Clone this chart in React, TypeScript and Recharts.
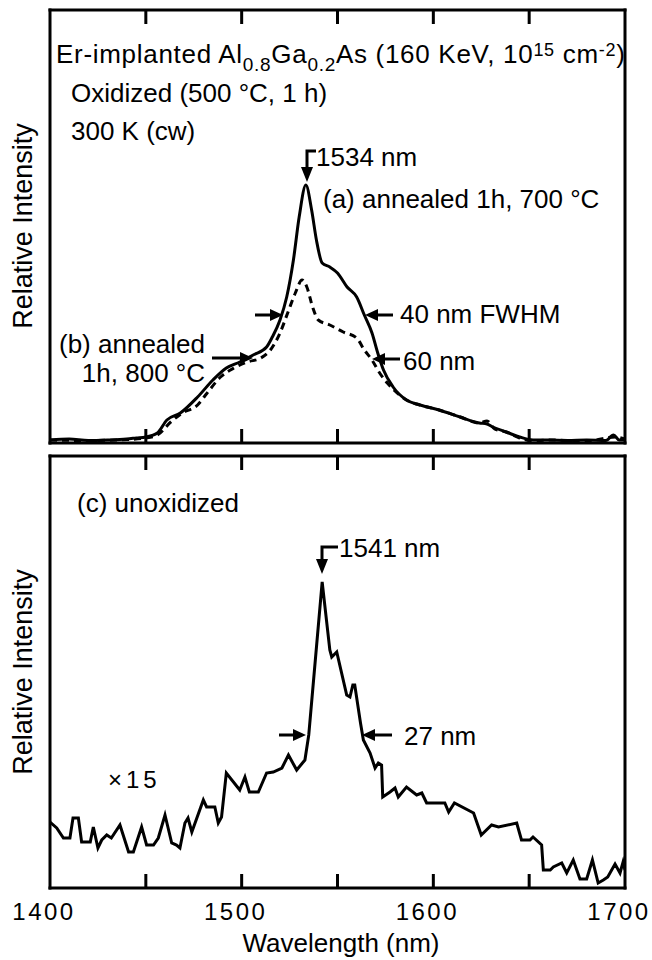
import React from 'react';
import { LineChart, Line, XAxis, YAxis, Customized } from 'recharts';

const FONT = '"Liberation Sans", Arial, Helvetica, sans-serif';

// wavelength ticks (nm); only the hundreds carry a label
const wavelengthTicks = [1400, 1450, 1500, 1550, 1600, 1650, 1700];
const innerTicks = [1450, 1500, 1550, 1600, 1650];
const labelledTicks = [1400, 1500, 1600, 1700];

// (a) annealed 1h, 700 °C  (solid)
const wlA = [1400, 1410, 1420, 1430, 1440, 1445, 1450, 1456, 1461, 1468, 1477, 1485, 1492, 1499, 1506, 1513, 1516, 1520, 1523.5, 1527, 1530, 1533.5, 1536.5, 1539, 1542, 1546, 1550, 1555, 1560, 1564, 1568, 1571, 1574, 1579, 1586, 1593, 1603, 1614, 1624, 1628, 1631, 1638, 1645, 1652, 1660, 1670, 1680, 1690, 1694, 1697, 1700];
const intA = [3, 4, 2.5, 3, 4, 5, 6, 10, 23, 30, 46, 63, 75, 81, 88, 96, 106, 123, 146, 183, 226, 258, 233, 203, 180, 176, 170, 156, 146, 128, 110, 90, 73, 56, 43, 38, 33, 26, 20, 19, 16, 11, 6, 3, 3, 2.5, 3, 2.5, 8, 3, 3];

// (b) annealed 1h, 800 °C  (dashed)
const wlB = [1400, 1420, 1440, 1450, 1456, 1463, 1469, 1477, 1482, 1489, 1496, 1503, 1510, 1515, 1520, 1524, 1528, 1531.5, 1534, 1537, 1540, 1546, 1553, 1560, 1564, 1568, 1572, 1576, 1580, 1586, 1593, 1603, 1614, 1624, 1628, 1632, 1638, 1645, 1652, 1660, 1680, 1695, 1700];
const intB = [3, 2.5, 3.5, 5, 8, 21, 30, 38, 50, 66, 75, 81, 85, 93, 110, 130, 150, 163, 156, 136, 123, 118, 111, 105, 93, 83, 70, 60, 52, 43, 38, 33, 26, 20, 22, 14, 11, 5, 2, 3, 2, 6, 4];

// (c) unoxidized, x15
const wlC = [1400, 1403.5, 1407, 1410.4, 1412, 1414.8, 1416.5, 1421, 1422.6, 1425, 1427, 1429.6, 1432, 1436.5, 1441, 1443.5, 1447.8, 1450.4, 1454, 1456.5, 1460, 1463.5, 1466, 1467.8, 1470.4, 1472, 1474, 1480, 1481.7, 1486, 1487.8, 1489.5, 1492, 1499, 1501.7, 1504, 1508.7, 1513, 1516.5, 1521, 1524.4, 1528.7, 1533, 1535, 1542, 1546, 1547, 1549.6, 1554.8, 1556.5, 1558, 1559, 1562, 1563.5, 1567, 1569.6, 1571.3, 1573, 1573.6, 1577.4, 1580, 1581.7, 1586, 1591.3, 1594, 1596.5, 1606, 1608, 1611, 1621, 1625, 1630.4, 1634, 1643.5, 1646, 1650.4, 1652, 1656.5, 1657.4, 1661, 1662.6, 1667, 1669.6, 1673, 1676.5, 1680, 1683, 1686, 1688.7, 1691, 1694.8, 1697.4, 1699, 1700];
const intC = [66, 60, 50, 50, 70, 70, 46, 46, 61, 40, 48, 53, 50, 63, 36, 36, 61, 43, 43, 50, 73, 45, 43, 40, 65, 70, 56, 88, 81, 81, 65, 71, 115, 98, 111, 96, 96, 115, 116, 120, 133, 118, 128, 153, 306, 238, 231, 236, 193, 191, 203, 203, 165, 148, 135, 120, 125, 123, 91, 96, 100, 91, 101, 93, 95, 85, 85, 76, 85, 75, 53, 63, 61, 65, 48, 48, 51, 43, 18, 18, 21, 25, 15, 28, 9, 9, 28, 5, 8, 11, 24, 15, 26, 18];

const toRows = (wl: number[], v: number[]) => wl.map((nm, i) => ({ nm, v: v[i] }));
const dataA = toRows(wlA, intA);
const dataB = toRows(wlB, intB);
const dataC = toRows(wlC, intC);

// plot box shared by both panels (px inside each chart)
const PLOT_LEFT = 50;
const PLOT_RIGHT = 625;
const PLOT_TOP = 10;
const TICK_LEN = 14;
const xOf = (nm: number) => PLOT_LEFT + ((nm - 1400) / 300) * (PLOT_RIGHT - PLOT_LEFT);

const frame = { stroke: '#000', strokeWidth: 3, strokeLinecap: 'square' as const };

// inward tick marks on the bottom edge, optional labels below
const makeTick = (labels: boolean) => (props: any) => {
  const { x, y, payload } = props;
  const v = payload.value;
  const inner = v > 1400 && v < 1700;
  return (
    <g>
      {inner && <rect x={x - 1.5} y={y - TICK_LEN} width={3} height={TICK_LEN} fill="#000" />}
      {labels && labelledTicks.includes(v) && (
        <text x={x - 6} y={y + 32} textAnchor="middle" fontFamily={FONT} fontSize={24} letterSpacing={2.5} fill="#000">
          {v}
        </text>
      )}
    </g>
  );
};

// inward ticks hanging from the top edge
function TopEdgeTicks() {
  return (
    <g>
      {innerTicks.map((t) => (
        <rect key={t} x={xOf(t) - 1.5} y={PLOT_TOP} width={3} height={TICK_LEN} fill="#000" />
      ))}
    </g>
  );
}

function HArrow({ from, to, y }: { from: number; to: number; y: number }) {
  const dir = to > from ? 1 : -1;
  const base = to - dir * 13;
  return (
    <g>
      <line x1={from} y1={y} x2={base} y2={y} stroke="#000" strokeWidth={3} />
      <polygon points={`${to},${y} ${base},${y - 6} ${base},${y + 6}`} fill="#000" />
    </g>
  );
}

function PeakArrow({ x, y, tip, textX }: { x: number; y: number; tip: number; textX: number }) {
  return (
    <g>
      <polyline points={`${textX},${y} ${x},${y} ${x},${tip - 12}`} fill="none" stroke="#000" strokeWidth={3} />
      <polygon points={`${x},${tip} ${x - 6},${tip - 15} ${x + 6},${tip - 15}`} fill="#000" />
    </g>
  );
}

function TopNotes() {
  return (
    <g fontFamily={FONT} fontSize={26} fill="#000">
      <TopEdgeTicks />
      <text transform="translate(32,226) rotate(-90)" textAnchor="middle" fontSize={27}>Relative Intensity</text>
      <text x={56} y={63} letterSpacing={0.7}>
        Er-implanted Al<tspan fontSize={19} dy={8}>0.8</tspan>
        <tspan dy={-8}>Ga</tspan>
        <tspan fontSize={19} dy={8}>0.2</tspan>
        <tspan dy={-8}>{'As (160 KeV, 10'}</tspan>
        <tspan fontSize={18} dy={-7}>15</tspan>
        <tspan dy={7}>{' cm'}</tspan>
        <tspan fontSize={18} dy={-7}>-2</tspan>
        <tspan dy={7}>)</tspan>
      </text>
      <text x={71} y={102}>Oxidized (500 °C, 1 h)</text>
      <text x={71} y={140}>300 K (cw)</text>
      <PeakArrow x={307} y={151} tip={182} textX={316} />
      <text x={316} y={166}>1534 nm</text>
      <text x={323} y={208}>(a) annealed 1h, 700 °C</text>
      <HArrow from={255} to={283} y={315} />
      <HArrow from={393} to={365} y={315} />
      <text x={400} y={323}>40 nm FWHM</text>
      <text x={205} y={353} textAnchor="end">(b) annealed</text>
      <text x={205} y={382} textAnchor="end">1h, 800 °C</text>
      <HArrow from={212} to={253} y={358} />
      <HArrow from={400} to={372} y={359} />
      <text x={403} y={370}>60 nm</text>
    </g>
  );
}

function BottomNotes() {
  return (
    <g fontFamily={FONT} fontSize={26} fill="#000">
      <TopEdgeTicks />
      <text transform="translate(32,226) rotate(-90)" textAnchor="middle" fontSize={27}>Relative Intensity</text>
      <text x={77} y={66}>(c) unoxidized</text>
      <PeakArrow x={322} y={101} tip={128} textX={338} />
      <text x={339} y={111}>1541 nm</text>
      <HArrow from={279} to={306} y={289} />
      <HArrow from={392} to={362} y={289} />
      <text x={404} y={299}>27 nm</text>
      <text x={108} y={342} fontSize={24} letterSpacing={4}>×15</text>
      <text x={341} y={506} textAnchor="middle">Wavelength (nm)</text>
    </g>
  );
}

// the four axes make the closed frame; the bottom axis draws its inward ticks
function frameAxes(yMax: number, labels: boolean) {
  return [
    <XAxis key="xb" dataKey="nm" type="number" domain={[1400, 1700]} ticks={wavelengthTicks} interval={0} tickSize={0} tickMargin={0} height={1} tickLine={false} tick={makeTick(labels)} axisLine={frame} allowDataOverflow />,
    <XAxis key="xt" xAxisId="top" orientation="top" type="number" domain={[1400, 1700]} height={1} tick={false} tickLine={false} axisLine={frame} allowDataOverflow />,
    <YAxis key="yl" type="number" domain={[0, yMax]} width={1} tick={false} tickLine={false} axisLine={frame} allowDataOverflow />,
    <YAxis key="yr" yAxisId="right" orientation="right" type="number" domain={[0, yMax]} width={1} tick={false} tickLine={false} axisLine={frame} allowDataOverflow />,
  ];
}

function TopPanel() {
  return (
    <LineChart width={652} height={460} margin={{ top: 9, right: 26, bottom: 16, left: 49 }}>
      {frameAxes(433, false)}
      <Line data={dataB} dataKey="v" type="monotone" stroke="#000" strokeWidth={3} strokeDasharray="7 5" dot={false} isAnimationActive={false} />
      <Line data={dataA} dataKey="v" type="monotone" stroke="#000" strokeWidth={3} dot={false} isAnimationActive={false} />
      <Customized component={TopNotes} />
    </LineChart>
  );
}

function BottomPanel() {
  return (
    <LineChart width={652} height={514} margin={{ top: 9, right: 26, bottom: 71, left: 49 }}>
      {frameAxes(432, true)}
      <Line data={dataC} dataKey="v" type="linear" stroke="#000" strokeWidth={3} dot={false} isAnimationActive={false} />
      <Customized component={BottomNotes} />
    </LineChart>
  );
}

export default function App() {
  return (
    <div style={{ position: 'absolute', left: 0, top: 0, width: 652, height: 960, background: '#fff' }}>
      <div style={{ position: 'absolute', left: 0, top: 0 }}>
        <TopPanel />
      </div>
      <div style={{ position: 'absolute', left: 0, top: 446 }}>
        <BottomPanel />
      </div>
    </div>
  );
}
